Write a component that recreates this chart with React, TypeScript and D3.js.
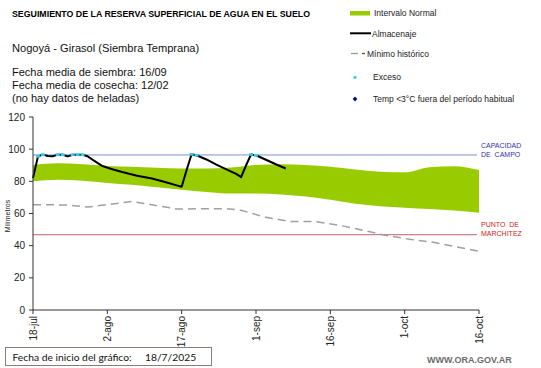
import React from "react";
import * as d3 from "d3";

const tickDays = [0, 15, 30, 45, 60, 75, 90];
const tickLabels = ["18-jul", "2-ago", "17-ago", "1-sep", "16-sep", "1-oct", "16-oct"];
const yTicks = [0, 20, 40, 60, 80, 100, 120];

const bandDays = [0, 5, 10, 15, 20, 25, 30, 35, 40, 45, 50, 55, 60, 65, 70, 75, 80, 85, 90];
const bandUpper = [90.2, 91.2, 90.6, 89.6, 89, 88.5, 88, 88, 88.6, 90.2, 90.6, 90.2, 89, 87.3, 86, 85.6, 88.8, 89.4, 87];
const bandLower = [80, 81, 80.3, 79, 77.8, 76.3, 74.8, 73.4, 72.4, 72.5, 71.8, 70.5, 68.5, 66, 64.5, 63.6, 62.8, 61.8, 60.5];

const almDays = [0, 1, 2, 3, 4, 5, 6, 7, 8, 9, 10, 11, 12, 14, 16, 18, 21, 24, 27, 29, 30, 31, 32, 33, 35, 37, 40, 41, 42, 43, 44, 45, 47, 49, 51];
const almValues = [82, 95.5, 96.6, 95.8, 95.6, 96.6, 96.5, 95.5, 96.5, 96.6, 96.5, 95.6, 93.5, 89.5, 87.5, 85.8, 83.5, 81.8, 79.3, 77.5, 76.6, 87, 96.8, 96.2, 93.6, 90.4, 86, 84.6, 82.6, 90, 96.7, 96.2, 93.4, 90.6, 88];

const excesoDays = [1, 2, 5, 6, 8, 9, 10, 32, 33, 44, 45];
const excesoValues = [95.5, 96.6, 96.6, 96.5, 96.5, 96.6, 96.5, 96.8, 96.2, 96.7, 96.2];

const minDays = [0, 7, 11, 20, 29, 39, 42, 47, 52, 57, 63, 71, 76, 81, 90];
const minValues = [65.5, 65.3, 64, 67.5, 62.8, 63, 62, 57.6, 55, 55, 52, 46.5, 44, 42, 36.5];

const capacidadCampo = 96.4;
const puntoMarchitez = 46.8;

export default function App() {
  const x = d3.scaleLinear().domain([0, 90]).range([33, 479]);
  const y = d3.scaleLinear().domain([0, 120]).range([310, 117]);

  const area = d3
    .area<number>()
    .x((_, i) => x(bandDays[i]))
    .y0((_, i) => y(bandLower[i]))
    .y1((_, i) => y(bandUpper[i]))
    .curve(d3.curveMonotoneX);
  const line = d3
    .line<number>()
    .x((_, i) => x(almDays[i]))
    .y((v) => y(v));
  const minLine = d3
    .line<number>()
    .x((_, i) => x(minDays[i]))
    .y((v) => y(v));

  const font = "Arial, 'Liberation Sans', sans-serif";
  const green = "#99cc00";
  const footFont = "Lato, 'Open Sans', sans-serif";

  return (
    <svg
      width={541}
      height={368}
      style={{ position: "absolute", left: 0, top: 0, background: "#fff" }}
      fontFamily={font}
    >
      <rect x={0} y={0} width={541} height={368} fill="#fff" />
      {/* Title and info */}
      <text x={12} y={17} fontSize={8.8} fontWeight="bold" fill="#000">
        SEGUIMIENTO DE LA RESERVA SUPERFICIAL DE AGUA EN EL SUELO
      </text>
      <text x={12} y={52} fontSize={11.1} fill="#111">
        Nogoyá - Girasol (Siembra Temprana)
      </text>
      <text x={12} y={76} fontSize={11} fill="#111">
        Fecha media de siembra: 16/09
      </text>
      <text x={12} y={89} fontSize={11} fill="#111">
        Fecha media de cosecha: 12/02
      </text>
      <text x={12} y={102} fontSize={11} fill="#111">
        (no hay datos de heladas)
      </text>

      {/* Legend */}
      <g fontSize={8.5} fill="#222">
        <rect x={350} y={11} width={20} height={4.5} fill={green} />
        <text x={374} y={16}>Intervalo Normal</text>
        <line x1={350} x2={371} y1={33.3} y2={33.3} stroke="#000" strokeWidth={2} />
        <text x={372} y={36.5}>Almacenaje</text>
        <line x1={351} x2={358} y1={53.5} y2={53.5} stroke="#999" strokeWidth={1.3} />
        <line x1={362} x2={365} y1={53.5} y2={53.5} stroke="#555" strokeWidth={1.3} />
        <text x={367} y={56.5}>Mínimo histórico</text>
        <circle cx={355} cy={77.3} r={1.6} fill="#33ccee" />
        <text x={373} y={80}>Exceso</text>
        <path d="M355,96.5 L357.3,99 L355,101.5 L352.7,99 Z" fill="#000099" />
        <text x={373} y={102}>Temp &lt;3°C fuera del período habitual</text>
      </g>

      {/* Band */}
      <path d={area(bandUpper) || ""} fill={green} />

      {/* Reference lines */}
      <line x1={33} x2={477} y1={y(capacidadCampo)} y2={y(capacidadCampo)} stroke="#7d90c8" strokeWidth={1} />
      <line x1={33} x2={477} y1={y(puntoMarchitez)} y2={y(puntoMarchitez)} stroke="#c0606a" strokeWidth={1} />
      <g fontSize={7} fill="#3333aa">
        <text x={481} y={147.5}>CAPACIDAD</text>
        <text x={481} y={156.5}>DE&#160;&#160;CAMPO</text>
      </g>
      <g fontSize={7} fill="#cc2222">
        <text x={481} y={226.5}>PUNTO&#160;&#160;DE</text>
        <text x={481} y={235.5}>MARCHITEZ</text>
      </g>

      {/* Min historico */}
      <path d={minLine(minValues) || ""} fill="none" stroke="#a0a0a0" strokeWidth={1.5} strokeDasharray="8,5" />

      {/* Almacenaje */}
      <path d={line(almValues) || ""} fill="none" stroke="#000" strokeWidth={2} strokeLinejoin="round" />
      {excesoValues.map((v, i) => (
        <rect key={i} x={x(excesoDays[i]) - 2} y={y(v) - 1.3} width={4} height={2.6} fill="#33ccee" />
      ))}

      {/* Axes */}
      <line x1={33} x2={33} y1={117} y2={310} stroke="#333" strokeWidth={1} />
      <line x1={33} x2={479} y1={310} y2={310} stroke="#333" strokeWidth={1} />
      {yTicks.map((t) => (
        <g key={t}>
          <line x1={29} x2={33} y1={y(t)} y2={y(t)} stroke="#333" />
          <text x={25} y={y(t) + 3.5} fontSize={10} textAnchor="end" fill="#222">
            {t}
          </text>
        </g>
      ))}
      <text
        transform={`translate(9.5,${216}) rotate(-90)`}
        fontSize={7}
        textAnchor="middle"
        fill="#222"
      >
        Milímetros
      </text>
      {tickDays.map((d, i) => (
        <g key={d}>
          <line x1={x(d)} x2={x(d)} y1={310} y2={314} stroke="#333" />
          <text
            transform={`translate(${x(d) + 3.5},${316}) rotate(-90)`}
            fontSize={10}
            textAnchor="end"
            fill="#222"
          >
            {tickLabels[i]}
          </text>
        </g>
      ))}

      {/* Footer */}
      <rect x={5.5} y={347.5} width={206} height={18} fill="#fff" stroke="#8c7b78" strokeWidth={1} />
      <text x={12.5} y={361} fontSize={10.3} fontFamily={footFont} fill="#111">
        Fecha de inicio del gráfico:
      </text>
      <text x={145} y={361} fontSize={10.3} fontFamily={footFont} fill="#111">
        18/7/2025
      </text>
      <text x={427} y={363} fontSize={9} fontWeight="bold" fill="#6b6b6b">
        WWW.ORA.GOV.AR
      </text>
    </svg>
  );
}
